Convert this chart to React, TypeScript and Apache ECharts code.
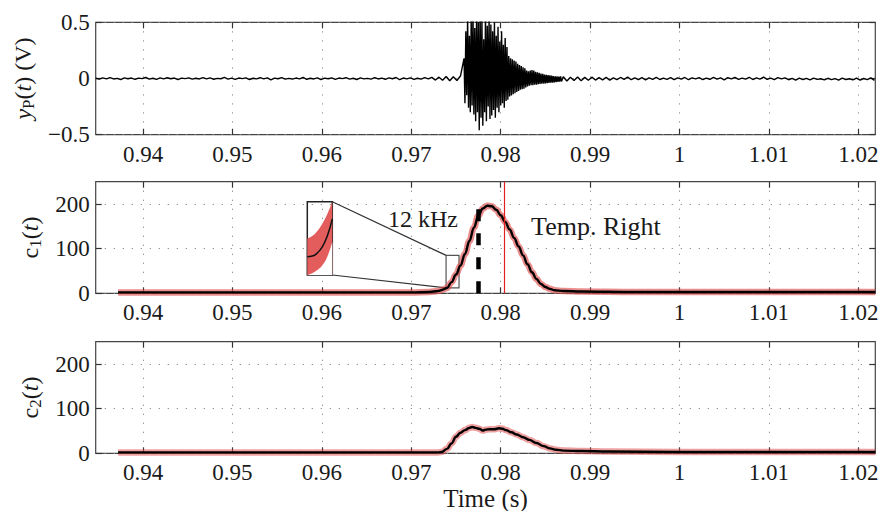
import React, { useEffect, useRef } from 'react';
import * as echarts from 'echarts';

// ---------- data ----------
const xTicks = [0.94, 0.95, 0.96, 0.97, 0.98, 0.99, 1.0, 1.01, 1.02];
const xMin = 0.9347;
const xMax = 1.0219;

const yPTicks = [-0.5, 0, 0.5];
const cTicks = [0, 100, 200];

// microphone signal y_P(t), in mV, three uniformly sampled segments
const yPPreStart = 0.9347;
const yPPreStep = 0.0004;
const yPPre_mV = [
  2, -6, 5, -3, 8, -4, 1, -9, 6, -2,
  4, -7, 3, -1, 9, -5, 2, -8, 5, -3,
  7, -2, 4, -10, 3, -1, 6, -6, 2, -4,
  8, -3, 5, -7, 1, -2, 10, -5, 3, -8,
  4, -1, 6, -9, 2, -3, 7, -4, 5, -12,
  3, -2, 8, -6, 1, -5, 4, -3, 9, -7,
  2, -4, 6, -10, 3, -2, 5, -8, 4, -1,
  7, -5, 2, -9, 6, -3, 1, -6, 8, -4,
  3, -7, 5, -2, 9, -11, 4, -3, 6, -8,
  2, -5, 7, -4, 10, -14, 12, -16, 18, -20,
  15, -18, 22,
];
const yPBurstStart = 0.9759;
const yPBurstStep = 0.0001;
const yPBurst_mV = [
  180, -220, 420, -150, 550, -260, 380, -300, 520, -240,
  600, -320, 450, -380, 560, -300, 500, -460, 580, -350,
  520, -420, 350, -300, 560, -380, 470, -250, 540, -360,
  480, -330, 420, -280, 500, -350, 380, -260, 460, -300,
  330, -240, 420, -220, 300, -260, 360, -200, 280, -190,
  200, -160, 180, -150, 170, -140, 160, -130, 150, -120,
  130, -110, 120, -100, 110, -95, 100, -90, 90, -80,
  70, -70, 65, -65, 70, -60, 75, -60, 70, -55,
  60, -55, 55, -50, 50, -48, 45, -46, 42, -45,
  35, -44, 32, -42, 30, -40, 28, -38, 26, -36,
  22, -34, 20, -32, 18, -30, 16, -28, 18, -26,
];
const yPPostStart = 0.987;
const yPPostStep = 0.0004;
const yPPost_mV = [
  15, -22, 12, -18, 14, -20, 10, -16, 12, -14,
  8, -12, 10, -15, 6, -10, 9, -8, 12, -11,
  5, -9, 8, -12, 6, -7, 10, -9, 4, -8,
  7, -10, 5, -6, 9, -11, 6, -4, 8, -9,
  3, -7, 10, -6, 5, -12, 7, -3, 9, -8,
  4, -6, 11, -9, 6, -5, 12, -7, 3, -10,
  8, -4, 6, -11, 2, -14, 4, -9, 1, -12,
  3, -8, -2, -13, 2, -10, -1, -15, 3, -9,
  -2, -12, 4, -14, 0, -10, 5, -16,
];

// c1(t)
const c1T = [0.9372, 0.945, 0.955, 0.965, 0.97, 0.972, 0.973, 0.9735, 0.974, 0.9745, 0.975, 0.9755, 0.976, 0.9765, 0.977, 0.9775, 0.978, 0.9785, 0.979, 0.9795, 0.98, 0.9805, 0.981, 0.9815, 0.982, 0.9825, 0.983, 0.9835, 0.984, 0.9845, 0.985, 0.9855, 0.986, 0.987, 0.989, 0.995, 1.005, 1.015, 1.0219];
const c1V = [2, 2, 2, 2, 2, 3, 5, 8, 12, 25, 42, 62, 88, 117, 147, 174, 190, 196, 195, 187, 175, 160, 143, 124, 105, 85, 65, 47, 32, 21, 14, 10, 7, 5, 4, 3, 3, 3, 3];

// c2(t)
const c2T = [0.9372, 0.945, 0.955, 0.965, 0.973, 0.9734, 0.974, 0.9745, 0.975, 0.9755, 0.976, 0.9765, 0.9768, 0.9772, 0.9776, 0.978, 0.9783, 0.9788, 0.9793, 0.9798, 0.9802, 0.9806, 0.9812, 0.9818, 0.9825, 0.9832, 0.984, 0.9848, 0.9855, 0.9862, 0.987, 0.989, 0.992, 1.0, 1.01, 1.0219];
const c2V = [2, 2, 2, 2, 2, 3, 10, 22, 37, 46, 52, 57, 59, 57, 55, 51, 53, 54, 54, 56, 55, 52, 47, 42, 36, 30, 23, 16, 11, 8, 6, 5, 4, 3, 3, 3];

// markers in c1 panel
const peakTime = 0.9775; // dashed black
const peakTop = 213;
const templateTime = 0.98038; // thin red
const zoomBoxT = [0.97389, 0.97534];
const zoomBoxV = [12, 85];

// magnified inset (c1 with confidence band)
const insetT = [0.97389, 0.97418, 0.97447, 0.97476, 0.97505, 0.97534];
const insetMean = [15, 15.5, 18, 23, 32, 46];
const insetLower = [0, 1.5, 4, 8, 15, 27];
const insetUpper = [30, 32, 36, 42, 50, 60];
const insetYRange = [0, 60];

const ann12 = { t: 0.9713, v: 167, text: '12 kHz' };
const annTemp = { t: 0.9834, v: 150, text: 'Temp. Right' };

// ---------- styles ----------
const FONT = 'Liberation Serif, serif';
const TXT = '#1a1a1a';
const FS = 23;
const NFS = 24;

const fmtX = (v: number) => String(parseFloat(v.toFixed(2)));
const fmtYP = (v: number) => (v < 0 ? '\u2212' + Math.abs(v) : String(v));

const rich = {
  n: { fontFamily: FONT, fontSize: NFS, color: TXT, lineHeight: 28 },
  i: { fontFamily: FONT, fontSize: NFS, fontStyle: 'italic', color: TXT, lineHeight: 28 },
  s: { fontFamily: FONT, fontSize: 17, color: TXT, lineHeight: 14, verticalAlign: 'bottom' },
};

const gridLine = { show: true, lineStyle: { color: '#8a8a8a', width: 1, type: [1.2, 7.8] } };
const tickStyle = { color: '#333', width: 1.2 };

function xAxis(gridIndex: number, position: 'top' | 'bottom', labels: boolean, name?: string) {
  return {
    type: 'value',
    gridIndex,
    position,
    min: xMin,
    max: xMax,
    axisLine: { show: false, onZero: false },
    axisTick: { show: true, inside: true, length: 6, customValues: xTicks, lineStyle: tickStyle },
    axisLabel: labels
      ? { show: true, customValues: xTicks, formatter: fmtX, fontFamily: FONT, fontSize: FS, color: TXT, margin: 8 }
      : { show: false },
    splitLine: position === 'bottom' ? gridLine : { show: false },
    name: name || '',
    nameLocation: 'middle',
    nameGap: 33,
    nameTextStyle: { fontFamily: FONT, fontSize: 25, lineHeight: 24, color: TXT },
  };
}

function yAxis(gridIndex: number, position: 'left' | 'right', min: number, max: number, ticks: number[], labels: boolean, name?: string, nameGap?: number, fmt?: (v: number) => string) {
  return {
    type: 'value',
    gridIndex,
    position,
    min,
    max,
    axisLine: { show: false, onZero: false },
    axisTick: { show: true, inside: true, length: 6, customValues: ticks, lineStyle: tickStyle },
    axisLabel: labels
      ? { show: true, customValues: ticks, formatter: fmt || ((v: number) => String(v)), fontFamily: FONT, fontSize: FS, color: TXT, margin: 6 }
      : { show: false },
    splitLine: position === 'left' ? gridLine : { show: false },
    name: name || '',
    nameLocation: 'middle',
    nameGap: nameGap || 50,
    nameTextStyle: { fontFamily: FONT, fontSize: NFS, color: TXT, rich },
  };
}

export default function App() {
  const ref = useRef<HTMLDivElement>(null);

  useEffect(() => {
    if (!ref.current) return;
    const chart = echarts.init(ref.current, undefined, { renderer: 'svg' });

    const yPData: number[][] = [];
    yPPre_mV.forEach((v, i) => yPData.push([yPPreStart + i * yPPreStep, v / 1000]));
    yPBurst_mV.forEach((v, i) => yPData.push([yPBurstStart + i * yPBurstStep, v / 1000]));
    yPPost_mV.forEach((v, i) => yPData.push([yPPostStart + i * yPPostStep, v / 1000]));

    const c1Data = c1T.map((t, i) => [t, c1V[i]]);
    const c2Data = c2T.map((t, i) => [t, c2V[i]]);
    const insetLowData = insetT.map((t, i) => [t, insetLower[i]]);
    const insetUpData = insetT.map((t, i) => [t, insetUpper[i]]);
    const insetMeanData = insetT.map((t, i) => [t, insetMean[i]]);

    const gridBase = { show: true, borderColor: '#444', borderWidth: 1.2, backgroundColor: 'transparent', containLabel: false, outerBoundsMode: 'none' };

    const option: any = {
      animation: false,
      backgroundColor: '#ffffff',
      grid: [
        { ...gridBase, left: 95.7, top: 22.3, width: 779.6, height: 112.4 },
        { ...gridBase, left: 95.7, top: 181.7, width: 779.6, height: 111.6 },
        { ...gridBase, left: 95.7, top: 341.7, width: 779.6, height: 111.6 },
        { ...gridBase, left: 307.3, top: 201.7, width: 25, height: 73.3, borderColor: '#222', borderWidth: 1.5 },
      ],
      xAxis: [
        xAxis(0, 'bottom', true),
        xAxis(0, 'top', false),
        xAxis(1, 'bottom', true),
        xAxis(1, 'top', false),
        xAxis(2, 'bottom', true, 'Time (s)'),
        xAxis(2, 'top', false),
        { type: 'value', gridIndex: 3, min: zoomBoxT[0], max: zoomBoxT[1], show: false },
      ],
      yAxis: [
        yAxis(0, 'left', -0.5, 0.5, yPTicks, true, '{i|y}{s|P}{n|(}{i|t}{n|) (V)}', 56, fmtYP),
        yAxis(0, 'right', -0.5, 0.5, yPTicks, false),
        yAxis(1, 'left', 0, 250, cTicks, true, '{n|c}{s|1}{n|(}{i|t}{n|)}', 52),
        yAxis(1, 'right', 0, 250, cTicks, false),
        yAxis(2, 'left', 0, 250, cTicks, true, '{n|c}{s|2}{n|(}{i|t}{n|)}', 52),
        yAxis(2, 'right', 0, 250, cTicks, false),
        { type: 'value', gridIndex: 3, min: insetYRange[0], max: insetYRange[1], show: false },
      ],
      series: [
        {
          type: 'line', xAxisIndex: 0, yAxisIndex: 0, data: yPData, symbol: 'none',
          lineStyle: { color: '#000', width: 1.4 }, silent: true, clip: true,
        },
        {
          type: 'line', xAxisIndex: 2, yAxisIndex: 2, data: c1Data, symbol: 'none', smooth: 0.4, smoothMonotone: 'x',
          lineStyle: { color: '#e05050', width: 6.5, opacity: 0.65 }, silent: true,
        },
        {
          type: 'line', xAxisIndex: 2, yAxisIndex: 2, data: c1Data, symbol: 'none', smooth: 0.4, smoothMonotone: 'x',
          lineStyle: { color: '#000', width: 2.4 }, silent: true, z: 3,
          markLine: {
            silent: true, symbol: 'none', label: { show: false },
            data: [
              [
                { coord: [peakTime, 0], lineStyle: { color: '#000', width: 4.5, type: [12, 12] } },
                { coord: [peakTime, peakTop] },
              ],
              [
                { coord: [templateTime, 0], lineStyle: { color: '#e02020', width: 1.2, type: 'solid' } },
                { coord: [templateTime, 250] },
              ],
            ],
          },
          markArea: {
            silent: true, label: { show: false },
            itemStyle: { color: 'rgba(0,0,0,0)', borderColor: '#555', borderWidth: 1.2 },
            data: [[{ coord: [zoomBoxT[0], zoomBoxV[1]] }, { coord: [zoomBoxT[1], zoomBoxV[0]] }]],
          },
        },
        {
          type: 'line', xAxisIndex: 4, yAxisIndex: 4, data: c2Data, symbol: 'none', smooth: 0.4, smoothMonotone: 'x',
          lineStyle: { color: '#e05050', width: 6.5, opacity: 0.55 }, silent: true,
        },
        {
          type: 'line', xAxisIndex: 4, yAxisIndex: 4, data: c2Data, symbol: 'none', smooth: 0.4, smoothMonotone: 'x',
          lineStyle: { color: '#000', width: 2.4 }, silent: true, z: 3,
        },
        {
          type: 'line', xAxisIndex: 6, yAxisIndex: 6, data: insetUpData, symbol: 'none', smooth: true, z: 2,
          lineStyle: { width: 0, opacity: 0 }, areaStyle: { color: '#e35d5d', opacity: 1, origin: 'start' }, silent: true,
        },
        {
          type: 'line', xAxisIndex: 6, yAxisIndex: 6, data: insetLowData, symbol: 'none', smooth: true, z: 3,
          lineStyle: { width: 0, opacity: 0 }, areaStyle: { color: '#ffffff', opacity: 1, origin: 'start' }, silent: true,
        },
        {
          type: 'line', xAxisIndex: 6, yAxisIndex: 6, data: insetMeanData, symbol: 'none', smooth: true,
          lineStyle: { color: '#111', width: 1.5 }, silent: true, z: 4,
        },
      ],
    };

    chart.setOption(option);

    const lastT = insetT[insetT.length - 1];
    const insetTR = chart.convertToPixel({ seriesIndex: 7 }, [lastT, insetYRange[1]]) as number[];
    const insetBR = chart.convertToPixel({ seriesIndex: 7 }, [lastT, insetYRange[0]]) as number[];
    const boxTL = chart.convertToPixel({ seriesIndex: 2 }, [zoomBoxT[0], zoomBoxV[1]]) as number[];
    const boxBL = chart.convertToPixel({ seriesIndex: 2 }, [zoomBoxT[0], zoomBoxV[0]]) as number[];
    const p12 = chart.convertToPixel({ seriesIndex: 2 }, [ann12.t, ann12.v]) as number[];
    const pTemp = chart.convertToPixel({ seriesIndex: 2 }, [annTemp.t, annTemp.v]) as number[];

    chart.setOption({
      graphic: [
        { type: 'line', silent: true, shape: { x1: insetTR[0], y1: insetTR[1], x2: boxTL[0], y2: boxTL[1] }, style: { stroke: '#333', lineWidth: 1.2 } },
        { type: 'line', silent: true, shape: { x1: insetBR[0], y1: insetBR[1], x2: boxBL[0], y2: boxBL[1] }, style: { stroke: '#333', lineWidth: 1.2 } },
        { type: 'text', silent: true, x: p12[0], y: p12[1], style: { text: ann12.text, fontFamily: FONT, fontSize: FS + 1, fill: TXT, align: 'center', verticalAlign: 'middle' } },
        { type: 'text', silent: true, x: pTemp[0], y: pTemp[1], style: { text: annTemp.text, fontFamily: FONT, fontSize: 26, fill: TXT, align: 'left', verticalAlign: 'middle' } },
      ],
    });

    return () => chart.dispose();
  }, []);

  return <div ref={ref} style={{ position: 'fixed', left: 0, top: 0, width: 881, height: 511, background: '#fff' }} />;
}
